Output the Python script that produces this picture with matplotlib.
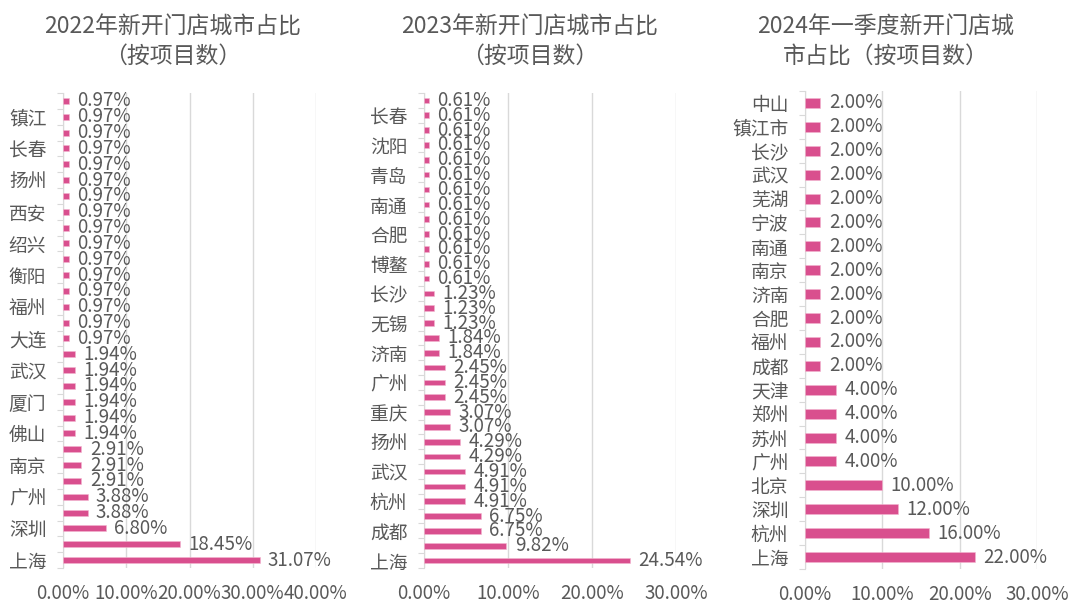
import numpy as np
import matplotlib
matplotlib.use('Agg')
import matplotlib.pyplot as plt
from matplotlib.ticker import FixedLocator, PercentFormatter

plt.rcParams['font.family'] = ['Noto Sans CJK SC', 'DejaVu Sans']

# data, bottom to top; '' = label hidden in the original
cities_2022 = ['上海', '', '深圳', '', '广州', '', '南京', '', '佛山', '',
               '厦门', '', '武汉', '', '大连', '', '福州', '', '衡阳', '',
               '绍兴', '', '西安', '', '扬州', '', '长春', '', '镇江', '']
share_2022 = [31.07, 18.45, 6.80, 3.88, 3.88, 2.91, 2.91, 2.91,
              1.94, 1.94, 1.94, 1.94, 1.94, 1.94] + [0.97] * 16

cities_2023 = ['上海', '', '成都', '', '杭州', '', '武汉', '', '扬州', '',
               '重庆', '', '广州', '', '济南', '', '无锡', '', '长沙', '',
               '博鳌', '', '合肥', '', '南通', '', '青岛', '', '沈阳', '',
               '长春', '']
share_2023 = [24.54, 9.82, 6.75, 6.75, 4.91, 4.91, 4.91, 4.29, 4.29,
              3.07, 3.07, 2.45, 2.45, 2.45, 1.84, 1.84,
              1.23, 1.23, 1.23] + [0.61] * 13

cities_2024 = ['上海', '杭州', '深圳', '北京', '广州', '苏州', '郑州', '天津',
               '成都', '福州', '合肥', '济南', '南京', '南通', '宁波', '芜湖',
               '武汉', '长沙', '镇江市', '中山']
share_2024 = [22, 16, 12, 10, 4, 4, 4, 4] + [2] * 12

titles = ['2022年新开门店城市占比\n（按项目数）',
          '2023年新开门店城市占比\n（按项目数）',
          '2024年一季度新开门店城\n市占比（按项目数）']

BAR = '#D94F8E'
TXT = '#595959'
GRID = '#D9D9D9'

fig = plt.figure(figsize=(10.8, 6.08), dpi=100)

panels = [
    (cities_2022, share_2022, 40, [63, 316, 93, 568], 0.38, 173),
    (cities_2023, share_2023, 30, [424, 676, 93, 568], 0.38, 530),
    (cities_2024, share_2024, 30, [805, 1037, 91, 569], 0.42, 886),
]

W, H = 1080, 608
for (cats, vals, xmax, box, bh, tx), title in zip(panels, titles):
    l, r, t, b = box
    ax = fig.add_axes([l / W, 1 - b / H, (r - l) / W, (b - t) / H])
    n = len(vals)
    y = np.arange(n)
    ax.barh(y, vals, height=bh, color=BAR, edgecolor='#F3B6CF', linewidth=0.4, zorder=3)
    for yi, v in zip(y, vals):
        ax.annotate(f'{v:.2f}%', (v, yi), xytext=(6, 0), textcoords='offset points',
                    va='center', ha='left', fontsize=13.5, color=TXT, zorder=4)
    ax.set_xlim(0, xmax)
    ax.set_ylim(-0.5, n - 0.5)
    ax.set_xticks(np.arange(0, xmax + 1, 10))
    ax.xaxis.set_major_formatter(PercentFormatter(decimals=2))
    ax.set_yticks(y)
    ax.set_yticklabels(cats)
    ax.yaxis.set_minor_locator(FixedLocator(np.arange(-0.5, n, 1)))
    ax.tick_params(axis='y', which='major', length=0, pad=12, labelsize=13.5, labelcolor=TXT)
    ax.tick_params(axis='y', which='minor', length=4, color=GRID, width=0.8)
    ax.tick_params(axis='x', length=0, pad=11, labelsize=13.5, labelcolor=TXT)
    ax.grid(axis='x', color=GRID, linewidth=1, zorder=0)
    for s in ['top', 'right', 'bottom']:
        ax.spines[s].set_visible(False)
    ax.spines['left'].set_color(GRID)
    fig.text(tx / W, 1 - 42 / H, title, ha='center', va='center', fontsize=16.5,
             color=TXT, linespacing=1.35)

fig.savefig('out.png', dpi=100, facecolor='white')
